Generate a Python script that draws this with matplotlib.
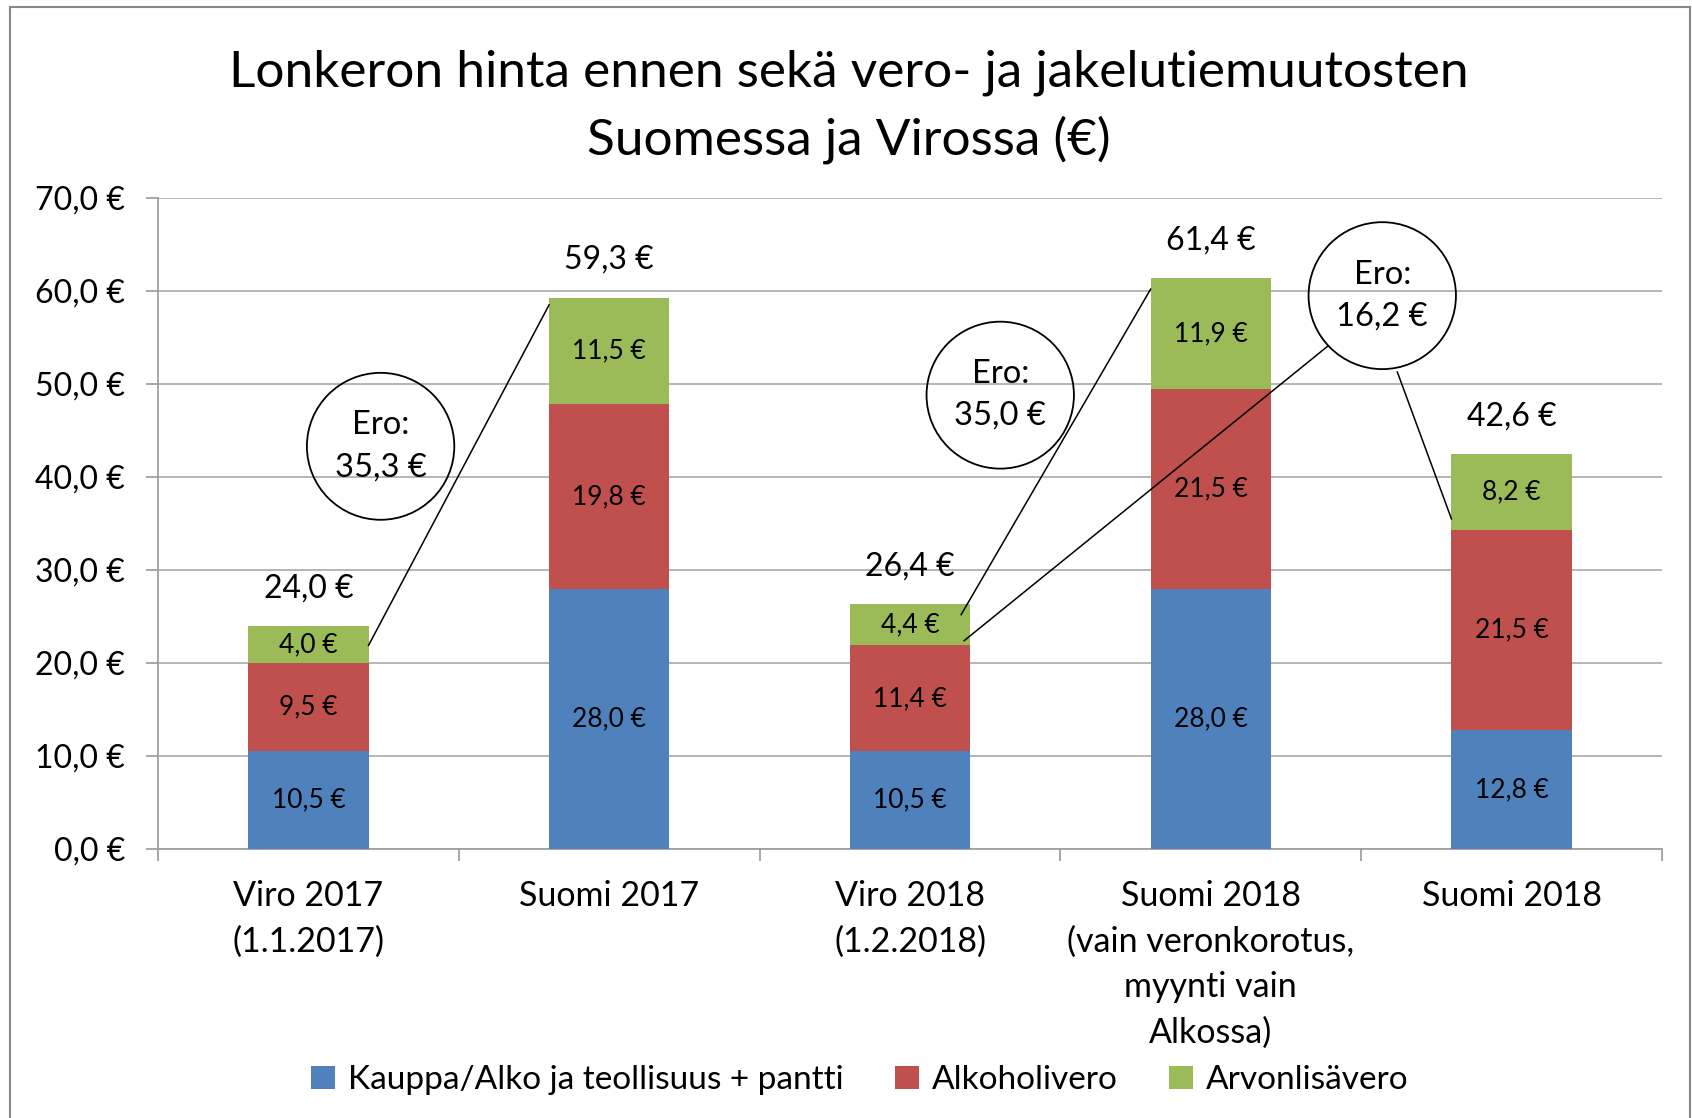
import matplotlib
matplotlib.use("Agg")
import matplotlib.pyplot as plt
from matplotlib.patches import Ellipse, Rectangle
import numpy as np

plt.rcParams["font.family"] = ["Lato", "DejaVu Sans"]

categories = [
    "Viro 2017\n(1.1.2017)",
    "Suomi 2017",
    "Viro 2018\n(1.2.2018)",
    "Suomi 2018\n(vain veronkorotus,\nmyynti vain\nAlkossa)",
    "Suomi 2018",
]
kauppa = [10.5, 28.0, 10.5, 28.0, 12.8]
alkoholivero = [9.5, 19.8, 11.4, 21.5, 21.5]
alv = [4.0, 11.5, 4.4, 11.9, 8.2]
totals = [24.0, 59.3, 26.4, 61.4, 42.6]
series_names = ["Kauppa/Alko ja teollisuus + pantti", "Alkoholivero", "Arvonlisävero"]
colors = ["#4F81BD", "#C0504D", "#9BBB59"]

# difference bubbles: centre (category units, value), text
bubbles = [(0.24, 43.3, "35,3 €"), (2.30, 48.8, "35,0 €"), (3.57, 59.5, "16,2 €")]
# connector lines (x0, y0, x1, y1) in data units
connectors = [
    (0.20, 21.9, 0.80, 58.5),
    (2.17, 25.2, 2.80, 60.2),
    (2.18, 22.4, 3.39, 54.1),
    (3.62, 51.3, 3.80, 35.5),
]


def fmt(v):
    return f"{v:.1f}".replace(".", ",") + " €"


W, H = 1692, 1118
fig = plt.figure(figsize=(W / 100, H / 100), dpi=100)
ax = fig.add_axes([158 / W, (H - 849) / H, 1504 / W, 651 / H])

x = np.arange(len(categories))
bw = 0.4
bottoms = np.zeros(len(categories))
for vals, name, c in zip([kauppa, alkoholivero, alv], series_names, colors):
    ax.bar(x, vals, bw, bottom=bottoms, color=c, label=name, zorder=3)
    for xi, b, v in zip(x, bottoms, vals):
        ax.text(xi, b + v / 2, fmt(v), ha="center", va="center", fontsize=19, zorder=4)
    bottoms = bottoms + np.array(vals)

for xi, top, t in zip(x, bottoms, totals):
    ax.annotate(fmt(t), (xi, top), xytext=(0, 27), textcoords="offset points",
                ha="center", va="center", fontsize=23)

for cx, cy, txt in bubbles:
    ax.add_patch(Ellipse((cx, cy), 0.49, 15.8, fill=False, edgecolor="black", lw=1.3, zorder=5))
    ax.annotate("Ero:", (cx, cy), xytext=(0, 15), textcoords="offset points",
                ha="center", va="center", fontsize=23.5, zorder=6)
    ax.annotate(txt, (cx, cy), xytext=(0, -15), textcoords="offset points",
                ha="center", va="center", fontsize=23.5, zorder=6)

for x0, y0, x1, y1 in connectors:
    ax.plot([x0, x1], [y0, y1], color="black", lw=1.1, zorder=5)

ax.set_xlim(-0.5, len(categories) - 0.5)
ax.set_ylim(0, 70)
yt = np.arange(0, 71, 10)
ax.set_yticks(yt, [fmt(v) for v in yt])
ax.set_xticks(x, categories)
ax.set_xticks(np.arange(-0.5, len(categories)), minor=True)
ax.grid(axis="y", color="#B0B0B0", lw=1.3, zorder=0)
for s in ["top", "right"]:
    ax.spines[s].set_visible(False)
for s in ["left", "bottom"]:
    ax.spines[s].set_color("#A0A0A0")
    ax.spines[s].set_linewidth(1.3)
ax.tick_params(axis="y", length=8.6, color="#A0A0A0", width=1.3, pad=15, labelsize=23)
ax.tick_params(axis="x", which="major", length=0, pad=22, labelsize=24.5)
ax.tick_params(axis="x", which="minor", length=8.6, color="#A0A0A0", width=1.3)
for lab in ax.get_xticklabels():
    lab.set_linespacing(1.52)
    lab.set_va("top")

fig.text(849 / W, 1 - 73 / H, "Lonkeron hinta ennen sekä vero- ja jakelutiemuutosten",
         ha="center", va="center", fontsize=37)
fig.text(849 / W, 1 - 140 / H, "Suomessa ja Virossa (€)", ha="center", va="center", fontsize=37)

fig.legend(loc="center", bbox_to_anchor=(860 / W, 1 - 1080 / H), ncol=3, frameon=False,
           fontsize=24, handlelength=0.7, handleheight=0.7, handletextpad=0.4,
           columnspacing=1.55)

fig.patches.append(Rectangle((10 / W, -0.05), 1680 / W, 1.05 - 7 / H, transform=fig.transFigure,
                             fill=False, edgecolor="#888888", lw=1.5))

fig.savefig("out.png", dpi=100)
